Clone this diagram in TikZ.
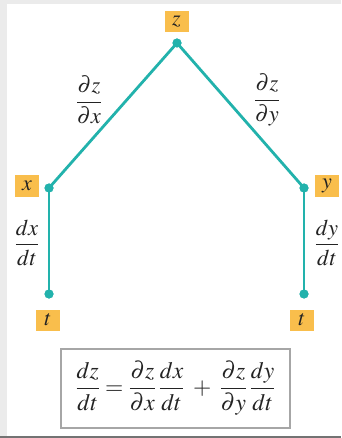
\documentclass[tikz,border=0pt]{standalone}
\usepackage{mathptmx}
\definecolor{tealline}{RGB}{34,178,172}
\definecolor{labelbg}{RGB}{249,190,76}
\definecolor{txt}{RGB}{35,35,35}
\begin{document}
\begin{tikzpicture}[x=1pt,y=-1pt,
  edge/.style={draw=tealline, line width=2.8pt},
  dot/.style={circle, fill=tealline, inner sep=0pt, minimum size=9pt},
  lbl/.style={fill=labelbg, inner sep=0pt, minimum width=24pt, minimum height=21pt, font=\fontsize{22}{24}\selectfont, text=txt},
  frac/.style={inner sep=0pt, font=\fontsize{22.5}{25}\selectfont, text=txt},
  eqbox/.style={draw=black!35, line width=1.2pt, inner sep=0pt, minimum width=229pt, minimum height=79pt, font=\fontsize{23.5}{26}\selectfont, text=txt}]
\useasboundingbox (0,0) rectangle (341,438);
\fill[white] (0,0) rectangle (341,438);
\fill[black!8] (0,0) rectangle (341,4);
\fill[black!8] (0,0) rectangle (7,438);
\draw[black!55, line width=2pt] (0,436.5) -- (341,436.5);
% dots
\node[dot] (dz) at (177,43) {};
\node[dot] (dx) at (49,188) {};
\node[dot] (dy) at (304,188) {};
\node[dot] (tx) at (49,294) {};
\node[dot] (ty) at (304,294) {};
% edges
\draw[edge] (dz.center) -- (dx.center);
\draw[edge] (dz.center) -- (dy.center);
\draw[edge] (dx.center) -- (tx.center);
\draw[edge] (dy.center) -- (ty.center);
\node[dot] at (dz) {};
\node[dot] at (dx) {};
\node[dot] at (dy) {};
\node[dot] at (tx) {};
\node[dot] at (ty) {};
% variable labels
\node[lbl] (lz) at (176.5,22) {$z$};
\node[lbl] (lx) at (27,186) {$x$};
\node[lbl] (ly) at (327,186) {$y$};
\node[lbl] (ltx) at (48,320) {$t$};
\node[lbl] (lty) at (302,320) {$t$};
% derivative labels
\node[frac] (fzx) at (89,100) {$\displaystyle\frac{\partial z}{\partial x}$};
\node[frac] (fzy) at (267,100) {$\displaystyle\frac{\partial z}{\partial y}$};
\node[frac] (fxt) at (27,243) {$\displaystyle\frac{dx}{dt}$};
\node[frac] (fyt) at (327,243) {$\displaystyle\frac{dy}{dt}$};
% equation
\node[eqbox] (eq) at (175.5,388.5) {$\displaystyle\frac{dz}{dt}=\frac{\partial z}{\partial x}\,\frac{dx}{dt}\;+\;\frac{\partial z}{\partial y}\,\frac{dy}{dt}$};
\end{tikzpicture}
\end{document}
